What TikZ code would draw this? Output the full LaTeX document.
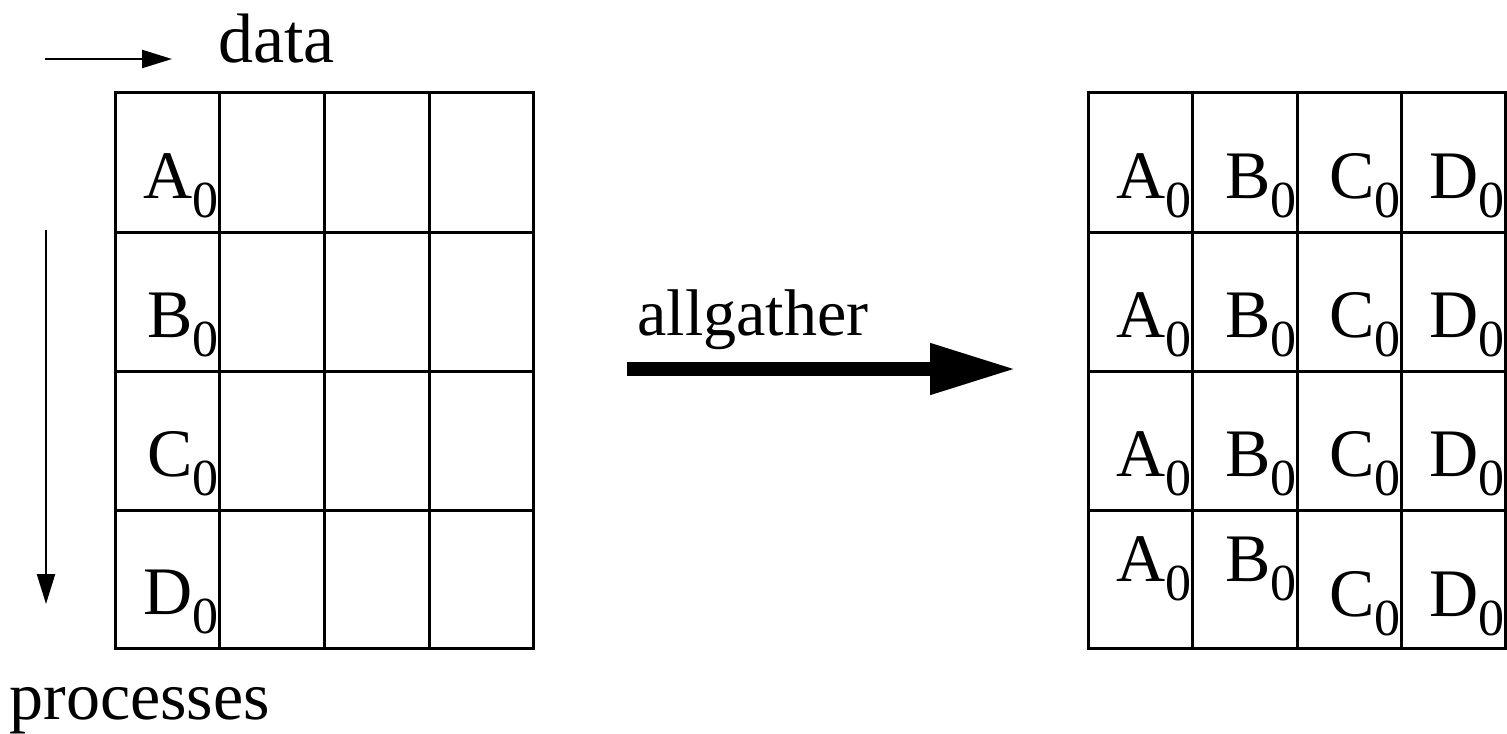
\documentclass[tikz,border=0pt]{standalone}
\usepackage{fontspec}
\setmainfont{Liberation Serif}
\usetikzlibrary{arrows.meta}
\newcommand{\zerosub}[1]{{\fontsize{34}{34}\selectfont #1}\raisebox{-9.5pt}{\fontsize{26}{26}\selectfont 0}}
\begin{document}
\begin{tikzpicture}[x=0.5pt,y=-0.5pt,
    gridline/.style={line width=1.5pt},
    lbl/.style={anchor=base east,inner sep=0pt},
    txt/.style={anchor=base west,inner sep=0pt,font=\fontsize{35}{40}\selectfont},
    smallarrow/.style={line width=1.2pt,-{Triangle[length=15pt,width=9pt]}},
    bigarrow/.style={line width=7pt,-{Triangle[length=43pt,width=24pt]}}]
  \useasboundingbox (0,0) rectangle (1507,733);
  % grids
  \begin{scope}[gridline]
    \draw (115,93) rectangle (533,648);
    \draw (219,93) -- (219,648);
    \draw (324,93) -- (324,648);
    \draw (429,93) -- (429,648);
    \draw (115,232) -- (533,232);
    \draw (115,371) -- (533,371);
    \draw (115,510) -- (533,510);
    \draw (1088,93) rectangle (1505,648);
    \draw (1192,93) -- (1192,648);
    \draw (1297,93) -- (1297,648);
    \draw (1401,93) -- (1401,648);
    \draw (1088,232) -- (1505,232);
    \draw (1088,371) -- (1505,371);
    \draw (1088,510) -- (1505,510);
  \end{scope}
  % labels
  \draw
    (219,198) node[lbl] (la){\zerosub{A}}
    (219,337) node[lbl] (lb){\zerosub{B}}
    (219,476) node[lbl] (lc){\zerosub{C}}
    (219,614) node[lbl] (ld){\zerosub{D}};
  \draw
    (1192,198) node[lbl] (a1){\zerosub{A}}
    (1297,198) node[lbl] (b1){\zerosub{B}}
    (1401,198) node[lbl] (c1){\zerosub{C}}
    (1505,198) node[lbl] (d1){\zerosub{D}}
    (1192,337) node[lbl] (a2){\zerosub{A}}
    (1297,337) node[lbl] (b2){\zerosub{B}}
    (1401,337) node[lbl] (c2){\zerosub{C}}
    (1505,337) node[lbl] (d2){\zerosub{D}}
    (1192,476) node[lbl] (a3){\zerosub{A}}
    (1297,476) node[lbl] (b3){\zerosub{B}}
    (1401,476) node[lbl] (c3){\zerosub{C}}
    (1505,476) node[lbl] (d3){\zerosub{D}}
    (1192,581) node[lbl] (a4){\zerosub{A}}
    (1297,581) node[lbl] (b4){\zerosub{B}}
    (1401,616) node[lbl] (c4){\zerosub{C}}
    (1505,616) node[lbl] (d4){\zerosub{D}};
  \draw
    (218,62) node[txt] (data){data}
    (9,719) node[txt,font=\fontsize{34}{40}\selectfont] (proc){processes}
    (637,335) node[txt,font=\fontsize{33}{40}\selectfont] (op){allgather};
  % arrows
  \coordinate (dx0) at (45,59);
  \coordinate (dx1) at (172,59);
  \coordinate (py0) at (46,230);
  \coordinate (py1) at (46,604);
  \coordinate (g0) at (627,369);
  \coordinate (g1) at (1016,369);
  \draw[smallarrow] (dx0) -- (dx1);
  \draw[smallarrow] (py0) -- (py1);
  \draw[bigarrow] (g0) -- (g1);
\end{tikzpicture}
\end{document}
